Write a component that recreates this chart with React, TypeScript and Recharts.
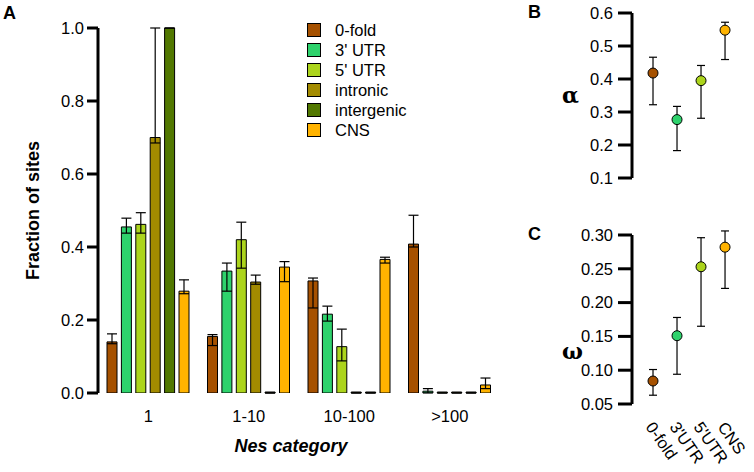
import React from "react";
import { BarChart, Bar, XAxis, YAxis, ErrorBar, Legend, ScatterChart, Scatter, Cell } from "recharts";

// panel A: fraction of sites per Nes category
const categories = ["1", "1-10", "10-100", ">100"];
const seriesNames = ["0-fold", "3' UTR", "5' UTR", "intronic", "intergenic", "CNS"];
const seriesColors = ["#a65100", "#2ed26c", "#acd41c", "#a38b00", "#527800", "#ffb300"];

const fold0 = [0.14, 0.155, 0.307, 0.408];
const fold0Lo = [0.135, 0.13, 0.233, 0.4];
const fold0Hi = [0.162, 0.16, 0.315, 0.487];

const utr3 = [0.455, 0.334, 0.216, 0.005];
const utr3Lo = [0.438, 0.279, 0.197, 0.0];
const utr3Hi = [0.479, 0.356, 0.238, 0.012];

const utr5 = [0.462, 0.42, 0.127, 0];
const utr5Lo = [0.438, 0.342, 0.088, 0];
const utr5Hi = [0.494, 0.468, 0.175, 0];

const intronic = [0.7, 0.304, 0, 0];
const intronicLo = [0.685, 0.298, 0, 0];
const intronicHi = [1.0, 0.323, 0, 0];

const intergenic = [1.0, 0, 0, 0];
const intergenicLo = [1.0, 0, 0, 0];
const intergenicHi = [1.0, 0, 0, 0];

const cns = [0.279, 0.345, 0.366, 0.022];
const cnsLo = [0.272, 0.305, 0.356, 0.012];
const cnsHi = [0.31, 0.36, 0.372, 0.041];

const fracTicks = [0, 0.2, 0.4, 0.6, 0.8, 1.0];

// panels B and C
const pointLabels = ["0-fold", "3'UTR", "5'UTR", "CNS"];
const pointColors = ["#a65100", "#2ed26c", "#acd41c", "#ffb300"];

const alpha = [0.418, 0.277, 0.395, 0.548];
const alphaLo = [0.322, 0.183, 0.281, 0.459];
const alphaHi = [0.466, 0.317, 0.441, 0.572];
const alphaTicks = [0.1, 0.2, 0.3, 0.4, 0.5, 0.6];

const omega = [0.084, 0.151, 0.253, 0.282];
const omegaLo = [0.063, 0.094, 0.165, 0.221];
const omegaHi = [0.101, 0.178, 0.296, 0.306];
const omegaTicks = [0.05, 0.1, 0.15, 0.2, 0.25, 0.3];

const FONT = "'Liberation Sans', Arial, Helvetica, sans-serif";

const seriesVals = [fold0, utr3, utr5, intronic, intergenic, cns];
const seriesLo = [fold0Lo, utr3Lo, utr5Lo, intronicLo, intergenicLo, cnsLo];
const seriesHi = [fold0Hi, utr3Hi, utr5Hi, intronicHi, intergenicHi, cnsHi];

const barData = categories.map((cat, i) => {
    const row: any = { cat };
    seriesVals.forEach((vals, s) => {
        row["s" + s] = vals[i];
        row["e" + s] = [vals[i] - seriesLo[s][i], seriesHi[s][i] - vals[i]];
    });
    return row;
});

function pointData(vals: number[], lo: number[], hi: number[]) {
    return vals.map((v, i) => ({ x: i, y: v, err: [v - lo[i], hi[i] - v] }));
}
const alphaData = pointData(alpha, alphaLo, alphaHi);
const omegaData = pointData(omega, omegaLo, omegaHi);

const tickStyle = { fill: "#000", fontSize: 16.5, fontFamily: FONT };

function LegendBox() {
    return (
        <div style={{ fontFamily: FONT, fontSize: 16.5, color: "#000" }}>
            {seriesNames.map((n, i) => (
                <div key={n} style={{ display: "flex", alignItems: "center", height: 20 }}>
                    <span style={{ width: 12, height: 12, border: "1px solid #000", background: seriesColors[i], marginRight: 14 }} />
                    <span>{n}</span>
                </div>
            ))}
        </div>
    );
}

const Dot = (p: any) => <circle cx={p.cx} cy={p.cy} r={5} fill={p.fill} stroke="#000" strokeWidth={1} />;

const RotTick = (p: any) => (
    <g transform={`translate(${p.x - 8},${p.y + 23})`}>
        <text x={0} y={0} transform="rotate(55)" textAnchor="start" fill="#000" fontSize={16.5} fontFamily={FONT}>
            {pointLabels[p.payload.value]}
        </text>
    </g>
);

const letter = (t: string, left: number, top: number) => (
    <div style={{ position: "absolute", left, top, fontFamily: FONT, fontWeight: "bold", fontSize: 18, lineHeight: "18px" }}>{t}</div>
);

export default function App() {
    return (
        <div style={{ position: "absolute", left: 0, top: 0, width: 754, height: 472, background: "#fff", fontFamily: FONT }}>
            {letter("A", 3, 4)}
            {letter("B", 528, 3)}
            {letter("C", 528, 225)}

            <div style={{ position: "absolute", left: 0, top: 0 }}>
                <BarChart width={510} height={472} data={barData} margin={{ top: 28, right: 10, bottom: 0, left: 0 }} barSize={10} barGap={4.4}>
                    <XAxis
                        dataKey="cat"
                        axisLine={false}
                        tickLine={false}
                        tickSize={0}
                        tickMargin={17}
                        height={79}
                        interval={0}
                        tick={tickStyle}
                        label={{ value: "Nes category", position: "insideBottom", offset: 20, dx: -8, fill: "#000", fontSize: 18, fontWeight: "bold", fontStyle: "italic", fontFamily: FONT }}
                    />
                    <YAxis
                        domain={[0, 1]}
                        ticks={fracTicks}
                        allowDataOverflow
                        width={98}
                        tickFormatter={(v: number) => v.toFixed(1)}
                        axisLine={{ stroke: "#000", strokeWidth: 3 }}
                        tickLine={{ stroke: "#000", strokeWidth: 3 }}
                        tickSize={11}
                        tickMargin={3}
                        tick={tickStyle}
                        label={{ value: "Fraction of sites", angle: -90, position: "insideLeft", offset: 33, style: { textAnchor: "middle" }, fill: "#000", fontSize: 18, fontWeight: "bold", fontFamily: FONT }}
                    />
                    <Legend
                        layout="vertical"
                        align="center"
                        verticalAlign="middle"
                        wrapperStyle={{ position: "absolute", top: 20, left: 307, width: 140 }}
                        content={() => <LegendBox />}
                    />
                    {seriesNames.map((n, s) => (
                        <Bar key={n} dataKey={"s" + s} name={n} fill={seriesColors[s]} stroke="#000" strokeWidth={1} minPointSize={1} isAnimationActive={false}>
                            <ErrorBar dataKey={"e" + s} width={5} stroke="#000" strokeWidth={1.2} direction="y" />
                        </Bar>
                    ))}
                </BarChart>
            </div>

            <div style={{ position: "absolute", left: 560, top: 0 }}>
                <ScatterChart width={194} height={200} margin={{ top: 13, right: 10, bottom: 22, left: 0 }}>
                    <XAxis type="number" dataKey="x" domain={[-0.875, 3.79]} allowDataOverflow hide />
                    <YAxis
                        type="number"
                        dataKey="y"
                        domain={[0.1, 0.6]}
                        ticks={alphaTicks}
                        allowDataOverflow
                        width={72}
                        tickFormatter={(v: number) => v.toFixed(1)}
                        axisLine={{ stroke: "#000", strokeWidth: 3 }}
                        tickLine={{ stroke: "#000", strokeWidth: 3 }}
                        tickSize={14}
                        tickMargin={5}
                        tick={tickStyle}
                        label={{ value: "α", position: "insideLeft", offset: 2, fill: "#000", fontSize: 22, fontWeight: "bold", fontFamily: "'DejaVu Serif', 'Liberation Serif', serif" }}
                    />
                    <Scatter data={alphaData} shape={Dot} isAnimationActive={false}>
                        {alphaData.map((d, i) => (
                            <Cell key={i} fill={pointColors[i]} />
                        ))}
                        <ErrorBar dataKey="err" direction="y" width={4} stroke="#000" strokeWidth={1.2} />
                    </Scatter>
                </ScatterChart>
            </div>

            <div style={{ position: "absolute", left: 560, top: 220 }}>
                <ScatterChart width={194} height={252} margin={{ top: 15, right: 10, bottom: 0, left: 0 }}>
                    <XAxis
                        type="number"
                        dataKey="x"
                        domain={[-0.875, 3.79]}
                        allowDataOverflow
                        ticks={[0, 1, 2, 3]}
                        interval={0}
                        axisLine={false}
                        tickLine={false}
                        tickSize={0}
                        tickMargin={0}
                        height={68}
                        tick={<RotTick />}
                    />
                    <YAxis
                        type="number"
                        dataKey="y"
                        domain={[0.05, 0.3]}
                        ticks={omegaTicks}
                        allowDataOverflow
                        width={72}
                        tickFormatter={(v: number) => v.toFixed(2)}
                        axisLine={{ stroke: "#000", strokeWidth: 3 }}
                        tickLine={{ stroke: "#000", strokeWidth: 3 }}
                        tickSize={14}
                        tickMargin={5}
                        tick={tickStyle}
                        label={{ value: "ω", position: "insideLeft", offset: 2, dy: 32, fill: "#000", fontSize: 22, fontWeight: "bold", fontFamily: "'DejaVu Serif', 'Liberation Serif', serif" }}
                    />
                    <Scatter data={omegaData} shape={Dot} isAnimationActive={false}>
                        {omegaData.map((d, i) => (
                            <Cell key={i} fill={pointColors[i]} />
                        ))}
                        <ErrorBar dataKey="err" direction="y" width={4} stroke="#000" strokeWidth={1.2} />
                    </Scatter>
                </ScatterChart>
            </div>
        </div>
    );
}
